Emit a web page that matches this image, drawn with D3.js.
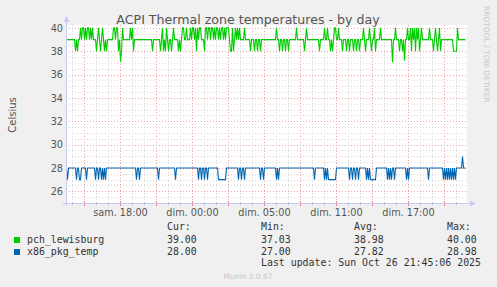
<!DOCTYPE html>
<html>
<head>
<meta charset="utf-8">
<script src="https://cdn.jsdelivr.net/npm/d3@7/dist/d3.min.js"></script>
<style>
body{margin:0;background:#f0f0f0;}
svg{display:block;font-family:"DejaVu Sans",sans-serif;}
.mono{font-family:"DejaVu Sans Mono",monospace;font-size:9.9px;fill:#333;white-space:pre;}
</style>
</head>
<body>
<svg id="chart" width="497" height="287"></svg>
<script>
var width=497, height=287;

// time base: 5 min samples, 400 of them, ending at graph end (UTC)
var endTime=new Date("2025-10-26T20:50:00Z");
var stepMin=5, nPoints=400;

// pch_lewisburg: sits at 39 with excursions [sample, value]
var pchBase=39;
var pchDev=[[9,38],[11,38],[14,40],[16,40],[17,40],[19,40],[21,40],[22,40],[24,40],[26,40],
  [30,38],[32,40],[34,38],[36,40],[38,38],[40,38],[47,40],[48,40],[50,40],[51,40],[52,38],
  [54,37.1],[55,38],[56,40],[64,40],[66,40],[67,38],[86,38],[94,38],[96,40],[97,38],[99,38],
  [100,40],[102,38],[105,38],[107,40],[112,38],[114,38],[116,40],[117,40],[120,40],[124,40],
  [126,40],[127,40],[129,40],[130,38],[131,40],[133,40],[134,40],[138,38],[139,40],[140,40],
  [142,40],[143,40],[145,40],[146,40],[148,40],[150,40],[151,40],[153,40],[155,40],[156,40],
  [158,40],[160,40],[161,40],[162,40],[164,38],[165,38],[166,40],[167,38],[169,40],[171,40],
  [173,40],[178,40],[184,38],[188,38],[191,38],[194,38],[210,40],[213,38],[216,38],[219,38],
  [222,38],[230,40],[238,38],[240,40],[253,38],[258,40],[261,40],[264,38],[266,38],[268,40],
  [269,40],[272,40],[276,38],[280,38],[283,38],[287,38],[290,38],[293,38],[297,40],[299,38],
  [303,40],[305,38],[308,40],[309,38],[314,40],[326,37.03],[329,40],[333,38],[336,38],[338,37.2],
  [341,40],[344,40],[345,38],[346,40],[348,40],[349,38],[350,40],[352,40],[353,38],[355,40],
  [363,40],[367,38],[369,40],[371,38],[373,40],[374,38],[387,38],[388,38],[389,38],[390,38],
  [391,40]];

// x86_pkg_temp: sits at 28 with excursions [sample, value]
var x86Base=28;
var x86Dev=[[1,27],[10,27],[13,27],[14,27],[20,27],[29,27],[32,27],[35,27],[37,27],[39,27],
  [70,27],[73,27],[92,27],[109,27],[132,27],[135,27],[138,27],[141,27],[152,27],[153,27],
  [154,27],[155,27],[156,27],[157,27],[158,27],[159,27],[172,27],[175,27],[178,27],[194,27],
  [197,27],[210,27],[212,27],[248,27],[258,27],[260,27],[262,27],[263,27],[264,27],[265,27],
  [266,27],[267,27],[268,27],[269,27],[283,27],[286,27],[289,27],[292,27],[300,27],[302,27],
  [304,27],[305,27],[306,27],[307,27],[308,27],[309,27],[321,27],[323,27],[325,27],[328,27],
  [340,27],[342,27],[362,27],[377,27],[379,27],[381,27],[383,27],[385,27],[387,27],[389,27],
  [396,28.98]];

var yTicks=[26,28,30,32,34,36,38,40];
var xLabelTimes=["2025-10-25T16:00:00Z","2025-10-25T22:00:00Z","2025-10-26T04:00:00Z","2025-10-26T10:00:00Z","2025-10-26T16:00:00Z"];
var xLabels=["sam. 18:00","dim. 00:00","dim. 05:00","dim. 11:00","dim. 17:00"];

var seriesNames=["pch_lewisburg","x86_pkg_temp"];
var seriesColors=["#00cc00","#0066b3"];
var curVals=["39.00","28.00"];
var minVals=["37.03","27.00"];
var avgVals=["38.98","27.82"];
var maxVals=["40.00","28.98"];
var lastUpdate="Last update: Sun Oct 26 21:45:06 2025";

function buildSeries(base,dev){
  var vals=d3.range(nPoints).map(function(){return base;});
  dev.forEach(function(d){vals[d[0]]=d[1];});
  return vals;
}
var startTime=new Date(endTime.getTime()-nPoints*stepMin*60000);
var times=d3.range(nPoints).map(function(i){return new Date(startTime.getTime()+i*stepMin*60000);});
var series=[buildSeries(pchBase,pchDev),buildSeries(x86Base,x86Dev)];

var plotL=66, plotR=466, plotT=25, plotB=203;
var x=d3.scaleUtc().domain([startTime,endTime]).range([plotL,plotR]);
var y=d3.scaleLinear().domain([25,40.25]).range([plotB,plotT]);

var svg=d3.select("#chart");
svg.append("rect").attr("width",width).attr("height",height).attr("fill","#f0f0f0");
svg.append("rect").attr("x",plotL).attr("y",plotT).attr("width",plotR-plotL+1).attr("height",plotB-plotT)
  .attr("fill","#ffffff");

// grids
var grid=svg.append("g");
var minorY=d3.range(25,40.01,0.5).filter(function(v){return v%2!==0;});
grid.selectAll(".hmin").data(minorY).enter().append("line")
  .attr("x1",plotL).attr("x2",plotR).attr("y1",function(d){return Math.round(y(d))+0.5;}).attr("y2",function(d){return Math.round(y(d))+0.5;})
  .attr("stroke","#d8d8d8").attr("stroke-dasharray","1,2");
var hours=d3.utcHour.range(startTime,endTime);
var minorX=hours.filter(function(h){return h.getUTCHours()%3!==1;});
var majorX=hours.filter(function(h){return h.getUTCHours()%3===1;});
grid.selectAll(".vmin").data(minorX).enter().append("line")
  .attr("y1",plotT).attr("y2",plotB).attr("x1",function(d){return Math.round(x(d))+0.5;}).attr("x2",function(d){return Math.round(x(d))+0.5;})
  .attr("stroke","#d8d8d8").attr("stroke-dasharray","1,2");
grid.selectAll(".hmaj").data(yTicks).enter().append("line")
  .attr("x1",plotL).attr("x2",plotR).attr("y1",function(d){return Math.round(y(d))+0.5;}).attr("y2",function(d){return Math.round(y(d))+0.5;})
  .attr("stroke","#eda0a0").attr("stroke-dasharray","1,2");
grid.selectAll(".vmaj").data(majorX).enter().append("line")
  .attr("y1",plotT).attr("y2",plotB).attr("x1",function(d){return Math.round(x(d))+0.5;}).attr("x2",function(d){return Math.round(x(d))+0.5;})
  .attr("stroke","#eda0a0").attr("stroke-dasharray","1,2");

// bottom tick marks
grid.selectAll(".tmin").data(minorX).enter().append("line")
  .attr("y1",plotB-1).attr("y2",plotB+2).attr("x1",function(d){return Math.round(x(d))+0.5;}).attr("x2",function(d){return Math.round(x(d))+0.5;})
  .attr("stroke","#bbbbbb");
grid.selectAll(".tmaj").data(majorX).enter().append("line")
  .attr("y1",plotB-2).attr("y2",plotB+3).attr("x1",function(d){return Math.round(x(d))+0.5;}).attr("x2",function(d){return Math.round(x(d))+0.5;})
  .attr("stroke","#e88080");

// data lines
var line=d3.line()
  .x(function(d,i){return x(times[i])+0.5;})
  .y(function(d){return y(d);});
svg.selectAll(".series").data(series).enter().append("path")
  .attr("d",line).attr("fill","none")
  .attr("stroke",function(d,i){return seriesColors[i];})
  .attr("stroke-width",1.1);

// axis frame with arrows
var axisCol="#c8c8f0";
svg.append("line").attr("x1",plotL+0.5).attr("x2",plotL+0.5).attr("y1",plotB+3).attr("y2",plotT-4).attr("stroke",axisCol);
svg.append("line").attr("x1",plotL-3).attr("x2",plotR+5).attr("y1",plotB+0.5).attr("y2",plotB+0.5).attr("stroke",axisCol);
svg.append("path").attr("d","M"+(plotL-2.5)+","+(plotT-3)+"L"+(plotL+3.5)+","+(plotT-3)+"L"+(plotL+0.5)+","+(plotT-9)+"Z").attr("fill",axisCol);
svg.append("path").attr("d","M"+(plotR+4)+","+(plotB-2.5)+"L"+(plotR+4)+","+(plotB+3.5)+"L"+(plotR+10)+","+(plotB+0.5)+"Z").attr("fill",axisCol);

// y axis labels
var yAxis=d3.axisLeft(y).tickValues(yTicks).tickSize(0).tickPadding(0).tickFormat(d3.format("d"));
var yg=svg.append("g").attr("transform","translate("+(plotL-3)+",0)").call(yAxis);
yg.select(".domain").remove();
yg.selectAll("text").attr("fill","#555").style("font-size","9.7px").style("font-family","DejaVu Sans");

// x axis labels
var xAxis=d3.axisBottom(x).tickValues(xLabelTimes.map(function(s){return new Date(s);}))
  .tickSize(0).tickPadding(0).tickFormat(function(d,i){return xLabels[i];});
var xg=svg.append("g").attr("transform","translate(0,"+(plotB+6)+")").call(xAxis);
xg.select(".domain").remove();
xg.selectAll("text").attr("fill","#555").style("font-size","9.7px").style("font-family","DejaVu Sans");

// title & labels
svg.append("text").attr("x",248).attr("y",24).attr("text-anchor","middle")
  .attr("fill","#555").style("font-size","12.6px").text("ACPI Thermal zone temperatures - by day");
svg.append("text").attr("transform","translate(16,115) rotate(-90)").attr("text-anchor","middle")
  .attr("fill","#555").style("font-size","10px").text("Celsius");
svg.append("text").attr("transform","translate(484,6) rotate(90)").attr("text-anchor","start")
  .attr("fill","#c8c8c8").style("font-size","7.5px").text("RRDTOOL / TOBI OETIKER");

// legend
var colX=[167,261,354,447];
var heads=["Cur:","Min:","Avg:","Max:"];
var cols=[curVals,minVals,avgVals,maxVals];
var leg=svg.append("g");
heads.forEach(function(h,j){
  leg.append("text").attr("class","mono").attr("x",colX[j]).attr("y",230).text(h);
});
seriesNames.forEach(function(n,i){
  var by=243+i*12;
  leg.append("rect").attr("x",14).attr("y",by-6).attr("width",6).attr("height",6).attr("fill",seriesColors[i]);
  leg.append("text").attr("class","mono").attr("x",27).attr("y",by).text(n);
  cols.forEach(function(c,j){
    leg.append("text").attr("class","mono").attr("x",colX[j]).attr("y",by).text(c[i]);
  });
});
leg.append("text").attr("class","mono").attr("x",261).attr("y",266).text(lastUpdate);
svg.append("text").attr("x",248).attr("y",279).attr("text-anchor","middle")
  .attr("fill","#c8c8c8").style("font-size","7.5px").text("Munin 2.0.67");
</script>
</body>
</html>
